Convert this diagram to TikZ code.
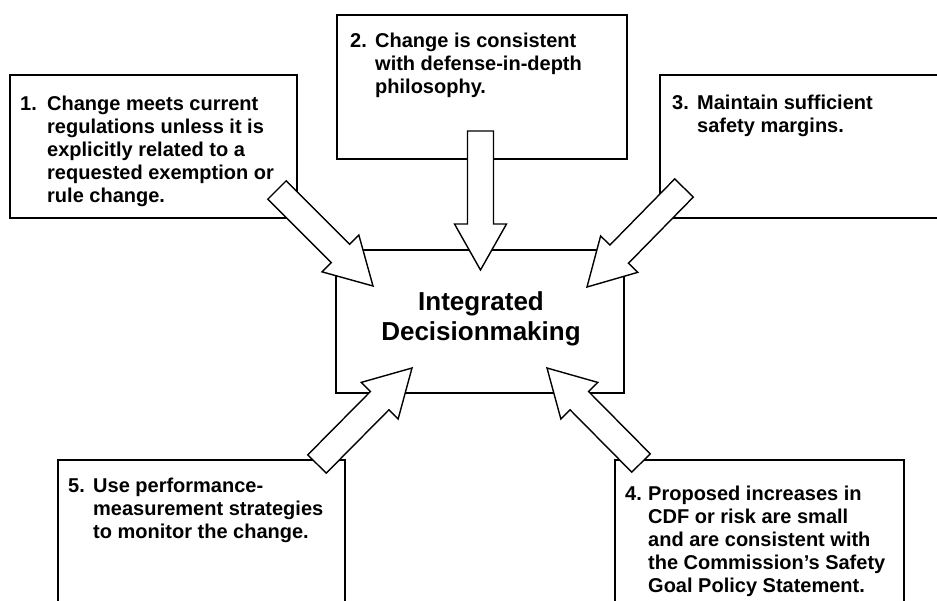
\documentclass[tikz,border=0pt]{standalone}
\usepackage{fontspec}
\setmainfont{Liberation Sans}
\usetikzlibrary{calc}
\tikzset{
  box/.style={draw, line width=2pt, fill=white, inner sep=0pt},
  barrow/.style={draw, line width=1.4pt, fill=white, line join=miter},
  btext/.style={anchor=north west, inner sep=0pt, font=\bfseries\fontsize{20}{23}\selectfont, align=left},
  ctext/.style={inner sep=0pt, font=\bfseries\fontsize{26}{30}\selectfont, align=center},
}
\newcommand\blockarrow[2]{%
  \coordinate (hb) at ($(#2)!46pt!(#1)$);
  \draw[barrow] ($(#1)!13pt!90:(#2)$) -- ($(hb)!13pt!-90:(#1)$) -- ($(hb)!26pt!-90:(#1)$)
    -- (#2) -- ($(hb)!26pt!90:(#1)$) -- ($(hb)!13pt!90:(#1)$) -- ($(#1)!13pt!-90:(#2)$) -- cycle;}
\begin{document}
\begin{tikzpicture}[x=1pt, y=-1pt]
\useasboundingbox (0,0) rectangle (937,600);
\clip (0,0) rectangle (937,600);
\fill[white] (0,0) rectangle (937,600);
% boxes
\node[box, minimum width=287pt, minimum height=143pt] (b1) at (153.5,146.5) {};
\node[box, minimum width=290pt, minimum height=144pt] (b2) at (482,87) {};
\node[box, minimum width=290pt, minimum height=143pt] (b3) at (805,146.5) {};
\node[box, minimum width=288pt, minimum height=143pt] (c) at (480,321.5) {};
\node[box, minimum width=287pt, minimum height=160pt] (b5) at (201.5,540) {};
\node[box, minimum width=289pt, minimum height=160pt] (b4) at (759.5,540) {};
% texts
\node[btext] (t1) at (20,94) {\begin{tabular}{@{}p{27pt}@{}l@{}}1. & Change meets current\\ & regulations unless it is\\ & explicitly related to a\\ & requested exemption or\\ & rule change.\end{tabular}};
\node[btext] (t2) at (350,31) {\begin{tabular}{@{}p{25pt}@{}l@{}}2. & Change is consistent\\ & with defense-in-depth\\ & philosophy.\end{tabular}};
\node[btext] (t3) at (672,93) {\begin{tabular}{@{}p{25pt}@{}l@{}}3. & Maintain sufficient\\ & safety margins.\end{tabular}};
\node[btext] (t4) at (625,484) {\begin{tabular}{@{}p{23pt}@{}l@{}}4. & Proposed increases in\\ & CDF or risk are small\\ & and are consistent with\\ & the Commission's Safety\\ & Goal Policy Statement.\end{tabular}};
\node[btext] (t5) at (68,476) {\begin{tabular}{@{}p{25pt}@{}l@{}}5. & Use performance-\\ & measurement strategies\\ & to monitor the change.\end{tabular}};
\node[ctext] (ct) at (481,319) {Integrated\\Decisionmaking};
% arrows
\coordinate (a1t) at (277,190); \coordinate (a1h) at (373,286);
\coordinate (a2t) at (480.5,131); \coordinate (a2h) at (480.5,270);
\coordinate (a3t) at (684,188); \coordinate (a3h) at (587,287);
\coordinate (a5t) at (317,464); \coordinate (a5h) at (412,368);
\coordinate (a4t) at (641,463); \coordinate (a4h) at (547,368);
\blockarrow{a1t}{a1h}
\blockarrow{a2t}{a2h}
\blockarrow{a3t}{a3h}
\blockarrow{a5t}{a5h}
\blockarrow{a4t}{a4h}
\end{tikzpicture}
\end{document}
